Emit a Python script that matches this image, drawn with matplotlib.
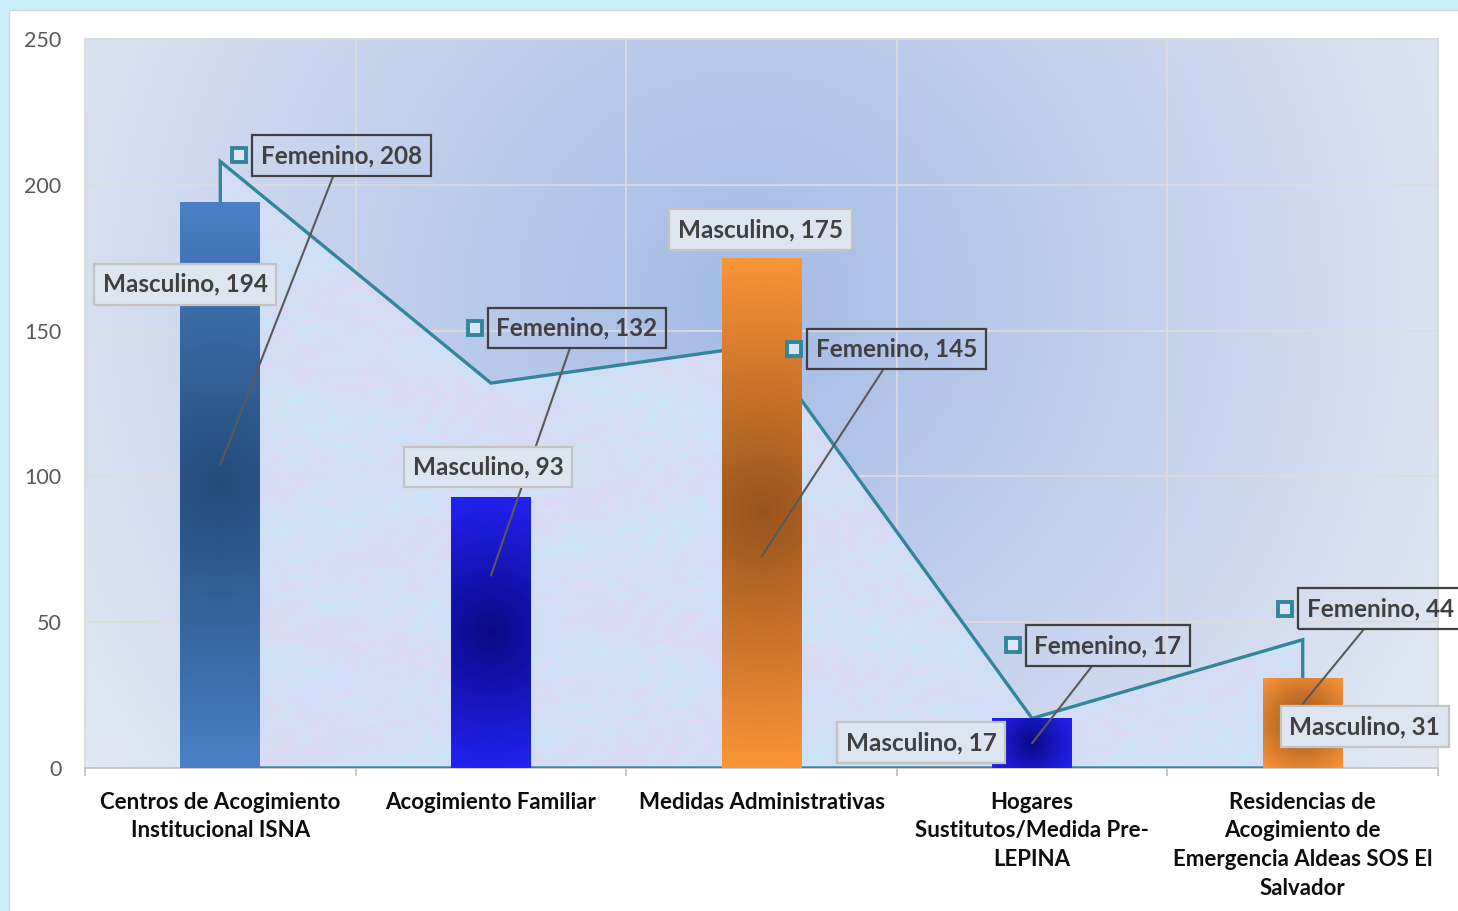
import numpy as np
import matplotlib
matplotlib.use('Agg')
import matplotlib.pyplot as plt
from matplotlib.patches import Rectangle, Polygon
from matplotlib.colors import to_rgb

# ---------------- data ----------------
categories = ["Centros de Acogimiento\nInstitucional ISNA",
              "Acogimiento Familiar",
              "Medidas Administrativas",
              "Hogares\nSustitutos/Medida Pre-\nLEPINA",
              "Residencias de\nAcogimiento de\nEmergencia Aldeas SOS El\nSalvador"]
masculino = [194, 93, 175, 17, 31]
femenino = [208, 132, 145, 17, 44]
yticks = [0, 50, 100, 150, 200, 250]

# ---------------- style ----------------
bar_light = ['#4a80c6', '#2222f4', '#fb9538', '#2222f4', '#fb9538']
bar_dark = ['#234b78', '#0a0a86', '#98531d', '#0a0a86', '#98531d']
TEAL = '#31869c'
FONT = 'Lato'
LFS = 17.5
# label offsets in pixels (box centre relative to data point)
fem_off = [(121, 6), (86, 55), (135, -4), (76, 73), (78, 31)]
mas_off = [(-35, -82), (-3, 30), (-1, 28), (-111, -24), (62, -49)]

W, H = 1458, 911
fig = plt.figure(figsize=(W / 100, H / 100), dpi=100)
fig.patch.set_facecolor('#c9eefb')
fig.add_artist(Rectangle((9 / W, -0.01), 1.0, (H - 10) / H + 0.01, transform=fig.transFigure,
                         facecolor='white', edgecolor='#d4d4d4', lw=1, zorder=0))

ax = fig.add_axes([85 / W, 1 - 768 / H, (1438 - 85) / W, (768 - 39) / H])
ax.set_xlim(-0.5, 4.5)
ax.set_ylim(0, 250)

# background radial gradient
gy, gx = np.mgrid[0:729:240j, 0:1353:440j]
d = np.sqrt((gx - 660) ** 2 + (gy - 260) ** 2)
t = np.clip(d / 800, 0, 1)[..., None]
c_dark = np.array(to_rgb('#a5bbe5'))
c_light = np.array(to_rgb('#e1e7f3'))
bg = c_dark * (1 - t) + c_light * t
ax.imshow(bg, extent=(-0.5, 4.5, 0, 250), aspect='auto', origin='upper', zorder=0,
          interpolation='bilinear')

# grid
ax.set_axisbelow(True)
ax.set_yticks(yticks)
ax.set_xticks(range(len(categories)))
ax.set_xticks(np.arange(-0.5, 5, 1.0), minor=True)
ax.grid(which='major', axis='y', color='#dcdcdc', lw=1.2)
ax.grid(which='minor', axis='x', color='#dcdcdc', lw=1.2)
ax.grid(which='major', axis='x', visible=False)

# area series (Femenino)
xs = [0] + list(range(len(femenino))) + [len(femenino) - 1]
ys = [0] + femenino + [0]
poly = Polygon(np.column_stack([xs, ys]), closed=True, facecolor='none', edgecolor='none')
ax.add_patch(poly)
ty, tx = np.mgrid[0:1:400j, 0:1:1200j]
f1 = np.sin(131 * tx + 6 * np.sin(57 * ty)) * np.cos(89 * ty + 5 * np.sin(73 * tx))
f2 = np.sin(157 * tx + 113 * ty + 3 * np.cos(41 * tx)) * np.sin(101 * ty - 37 * tx + 2 * np.sin(67 * ty))
f3 = np.sin(23 * tx + 3 * np.cos(17 * ty)) * np.cos(19 * ty)
base = np.array(to_rgb('#d2def5'))
pink = np.array(to_rgb('#e4d3f0'))
cyan = np.array(to_rgb('#c5e9f8'))
a1 = (np.clip(f1, 0, 1) * 0.4 + np.clip(f3, 0, 1) * 0.3)[..., None]
a2 = (np.clip(f2, 0, 1) * 0.4 + np.clip(-f3, 0, 1) * 0.3)[..., None]
tex = base * (1 - a1 - a2) + pink * a1 + cyan * a2
tex = np.clip(tex, 0, 1)
im = ax.imshow(tex, extent=(-0.5, 4.5, 0, 250), aspect='auto', origin='upper', zorder=2)
im.set_clip_path(poly)
ax.add_patch(Polygon(np.column_stack([xs, ys]), closed=True, facecolor='none',
                     edgecolor=TEAL, lw=2.4, zorder=3, joinstyle='miter'))

# bars (Masculino) with radial gradient
bars = ax.bar(range(len(masculino)), masculino, width=0.295, color='none', edgecolor='none', zorder=4)
ppx = 1353 / 5.0
ppy = 729 / 250.0
for i, b in enumerate(bars):
    x0, w, hgt = b.get_x(), b.get_width(), b.get_height()
    hw, hh = w * ppx / 2, hgt * ppy / 2
    by, bx = np.mgrid[-hh:hh:200j, -hw:hw:60j]
    r = np.sqrt(bx ** 2 + by ** 2) / np.sqrt(hw ** 2 + hh ** 2)
    r = np.clip(r, 0, 1)[..., None]
    img = np.array(to_rgb(bar_dark[i])) * (1 - r) + np.array(to_rgb(bar_light[i])) * r
    bim = ax.imshow(img, extent=(x0, x0 + w, 0, hgt), aspect='auto', origin='upper', zorder=4,
                    interpolation='bilinear')
    bim.set_clip_path(b)
ax.set_xlim(-0.5, 4.5)
ax.set_ylim(0, 250)

# spines & ticks
for s in ['top', 'left', 'right']:
    ax.spines[s].set_color('#d9d9d9')
    ax.spines[s].set_linewidth(1.2)
ax.spines['bottom'].set_color('#bfbfbf')
ax.spines['bottom'].set_linewidth(1.2)
ax.tick_params(axis='y', length=0, pad=17, labelsize=15.5, labelcolor='#595959')
ax.tick_params(axis='x', which='major', length=0, pad=17)
ax.tick_params(axis='x', which='minor', length=6, color='#bfbfbf', width=1.2)
ax.set_xticklabels(categories, fontsize=16, fontweight='bold', color='#0d0d0d',
                   family=FONT, linespacing=1.45, va='top')
for lab in ax.get_yticklabels():
    lab.set_family(FONT)

# labels
fem_anns = []
for i, v in enumerate(femenino):
    px, py = ax.transData.transform((i, v))
    a = ax.annotate(f"Femenino, {v}", xy=(i, v / 2), xycoords='data',
                    xytext=(px + fem_off[i][0], py + fem_off[i][1]), textcoords='figure pixels',
                    ha='center', va='center', fontsize=LFS, fontweight='bold', color='#404040',
                    family=FONT,
                    bbox=dict(boxstyle='square,pad=0.36', fc='none', ec='#404040', lw=1.6),
                    arrowprops=dict(arrowstyle='-', color='#595959', lw=1.5, shrinkA=0, shrinkB=0),
                    zorder=6, annotation_clip=False)
    fem_anns.append(a)
for i, v in enumerate(masculino):
    px, py = ax.transData.transform((i, v))
    ax.annotate(f"Masculino, {v}", xy=(i, v), xycoords='data',
                xytext=(px + mas_off[i][0], py + mas_off[i][1]), textcoords='figure pixels',
                ha='center', va='center', fontsize=LFS, fontweight='bold', color='#404040',
                family=FONT,
                bbox=dict(boxstyle='square,pad=0.36', fc='#dde5f1', ec='#c3c3c3', lw=1.6),
                zorder=6, annotation_clip=False)

fig.canvas.draw()
rend = fig.canvas.get_renderer()
inv = ax.transData.inverted()
for a in fem_anns:
    ext = a.get_bbox_patch().get_window_extent(rend)
    mx, my = inv.transform((ext.x0 - 13, (ext.y0 + ext.y1) / 2))
    ax.plot([mx], [my], marker='s', ms=10.5, mec=TEAL, mew=2.8, mfc='#dbe5f5',
            zorder=7, clip_on=False)

fig.savefig('out.png', dpi=100, facecolor=fig.get_facecolor())
